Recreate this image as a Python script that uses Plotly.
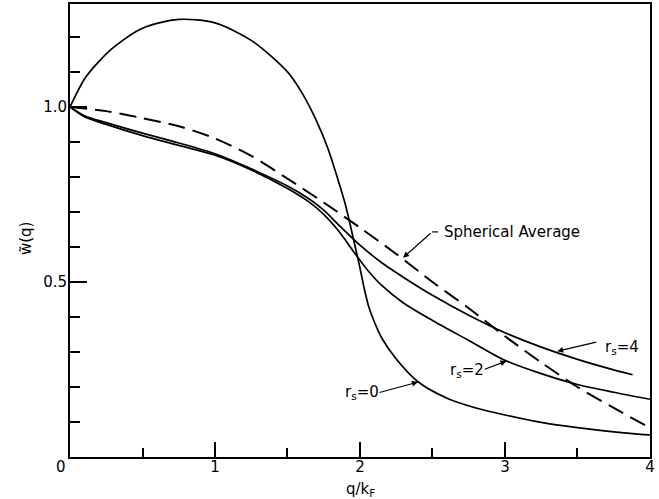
import plotly.graph_objects as go

# r_s = 0 curve
x_rs0 = [0, 0.1, 0.2, 0.3, 0.5, 0.75, 1.0, 1.25, 1.5, 1.6, 1.7, 1.78, 1.85, 1.9, 1.94, 1.97,
         2.0, 2.03, 2.06, 2.1, 2.15, 2.25, 2.4, 2.6, 2.8, 3.0, 3.25, 3.5, 3.75, 4.0]
y_rs0 = [1.0, 1.08, 1.13, 1.17, 1.225, 1.25, 1.24, 1.19, 1.10, 1.04, 0.96, 0.88, 0.79, 0.72, 0.65, 0.595,
         0.54, 0.48, 0.43, 0.385, 0.34, 0.28, 0.215, 0.168, 0.14, 0.12, 0.099, 0.084, 0.072, 0.063]

# r_s = 2 curve
x_rs2 = [0, 0.1, 0.25, 0.5, 0.75, 1.0, 1.25, 1.5, 1.65, 1.75, 1.85, 1.95, 2.05, 2.15, 2.3, 2.5,
         2.75, 3.0, 3.25, 3.5, 3.75, 4.0]
y_rs2 = [1.0, 0.972, 0.95, 0.918, 0.89, 0.862, 0.82, 0.767, 0.728, 0.693, 0.647, 0.59, 0.535, 0.49,
         0.44, 0.39, 0.333, 0.276, 0.238, 0.207, 0.185, 0.165]

# r_s = 4 curve
x_rs4 = [0, 0.1, 0.25, 0.5, 0.75, 1.0, 1.25, 1.5, 1.65, 1.75, 1.86, 2.0, 2.15, 2.32, 2.5, 2.75,
         3.0, 3.25, 3.5, 3.75, 3.88]
y_rs4 = [1.0, 0.975, 0.955, 0.925, 0.897, 0.866, 0.823, 0.774, 0.737, 0.705, 0.66, 0.605, 0.555,
         0.508, 0.462, 0.405, 0.355, 0.314, 0.279, 0.249, 0.235]

# spherical average (dashed)
x_sph = [0, 0.25, 0.5, 0.75, 1.0, 1.25, 1.5, 1.75, 2.0, 2.25, 2.5, 2.75, 3.0, 3.25, 3.5, 3.75, 4.0]
y_sph = [1.0, 0.988, 0.968, 0.945, 0.91, 0.86, 0.795, 0.727, 0.655, 0.58, 0.50, 0.425, 0.345,
         0.27, 0.20, 0.14, 0.083]

x_major = [1, 2, 3, 4]
x_major_labels = ["1", "2", "3", "4"]
x_minor = [0.5, 1.5, 2.5, 3.5]
y_major = [0.5, 1.0]
y_major_labels = ["0.5", "1.0"]
y_minor = [0.1, 0.2, 0.3, 0.4, 0.6, 0.7, 0.8, 0.9, 1.1, 1.2]

FONT = "DejaVu Sans, sans-serif"
line_style = dict(color="black", width=1.7, shape="spline", smoothing=0.8)

fig = go.Figure()
fig.add_trace(go.Scatter(x=x_rs0, y=y_rs0, mode="lines", line=line_style, name="rs=0"))
fig.add_trace(go.Scatter(x=x_rs2, y=y_rs2, mode="lines", line=line_style, name="rs=2"))
fig.add_trace(go.Scatter(x=x_rs4, y=y_rs4, mode="lines", line=line_style, name="rs=4"))
fig.add_trace(go.Scatter(x=x_sph, y=y_sph, mode="lines",
                         line=dict(color="black", width=2, dash="17px,8px", shape="spline", smoothing=0.8),
                         name="Spherical Average"))

TXT = dict(size=15, color="black", family=FONT)
annotations = []
# "0" at origin
annotations.append(dict(x=0, y=0, xref="x", yref="y", text="0", showarrow=False,
                        xanchor="center", yanchor="middle", xshift=-9, yshift=-10, font=TXT))
# Spherical Average label
annotations.append(dict(x=2.566, y=0.643, xref="x", yref="y", text="Spherical Average", showarrow=False,
                        xanchor="left", yanchor="middle", font=TXT))
annotations.append(dict(x=2.297, y=0.569, xref="x", yref="y", ax=2.497, ay=0.643, axref="x", ayref="y",
                        text="", showarrow=True, arrowhead=2, arrowsize=1, arrowwidth=1.2,
                        arrowcolor="black", standoff=0))
# r_s = 4
annotations.append(dict(x=3.676, y=0.314, xref="x", yref="y", text="r<sub>s</sub>=4", showarrow=False,
                        xanchor="left", yanchor="middle", font=TXT))
annotations.append(dict(x=3.36, y=0.302, xref="x", yref="y", ax=3.64, ay=0.329, axref="x", ayref="y",
                        text="", showarrow=True, arrowhead=2, arrowsize=1, arrowwidth=1.2,
                        arrowcolor="black", standoff=0))
# r_s = 2
annotations.append(dict(x=2.61, y=0.246, xref="x", yref="y", text="r<sub>s</sub>=2", showarrow=False,
                        xanchor="left", yanchor="middle", font=TXT))
annotations.append(dict(x=3.01, y=0.274, xref="x", yref="y", ax=2.85, ay=0.249, axref="x", ayref="y",
                        text="", showarrow=True, arrowhead=2, arrowsize=1, arrowwidth=1.2,
                        arrowcolor="black", standoff=0))
# r_s = 0
annotations.append(dict(x=1.88, y=0.183, xref="x", yref="y", text="r<sub>s</sub>=0", showarrow=False,
                        xanchor="left", yanchor="middle", font=TXT))
annotations.append(dict(x=2.40, y=0.214, xref="x", yref="y", ax=2.124, ay=0.183, axref="x", ayref="y",
                        text="", showarrow=True, arrowhead=2, arrowsize=1, arrowwidth=1.2,
                        arrowcolor="black", standoff=0))
# axis titles
annotations.append(dict(x=0.5, y=-0.072, xref="paper", yref="paper", text="q/k<sub>F</sub>",
                        showarrow=False, xanchor="center", yanchor="middle", font=TXT))
annotations.append(dict(x=-0.076, y=0.483, xref="paper", yref="paper", text="w\u0303(q)",
                        showarrow=False, textangle=-90, xanchor="center", yanchor="middle", font=TXT))

shapes = [dict(type="line", xref="x", yref="y", x0=2.497, y0=0.643, x1=2.538, y1=0.643,
               line=dict(color="black", width=1.2))]

fig.update_layout(
    width=659, height=499,
    margin=dict(l=70, r=9, t=4, b=42, autoexpand=False),
    paper_bgcolor="white", plot_bgcolor="white",
    showlegend=False,
    annotations=annotations,
    shapes=shapes,
    font=dict(family=FONT, color="black", size=15),
    xaxis=dict(range=[0, 4.0001], showline=True, linecolor="black", linewidth=2, mirror=True,
               showgrid=False, zeroline=False, automargin=False,
               tickmode="array", tickvals=x_major, ticktext=x_major_labels,
               ticks="inside", ticklen=15, tickwidth=1.5, tickcolor="black",
               ticklabelstandoff=-5,
               tickfont=dict(size=15, family=FONT, color="black"),
               minor=dict(tickmode="array", tickvals=x_minor, ticks="inside", ticklen=9,
                          tickwidth=1.5, tickcolor="black", showgrid=False)),
    yaxis=dict(range=[0, 1.294], showline=True, linecolor="black", linewidth=2, mirror=True,
               showgrid=False, zeroline=False, automargin=False,
               tickmode="array", tickvals=y_major, ticktext=y_major_labels,
               ticks="inside", ticklen=17, tickwidth=1.5, tickcolor="black",
               ticklabelstandoff=-2,
               tickfont=dict(size=15, family=FONT, color="black"),
               minor=dict(tickmode="array", tickvals=y_minor, ticks="inside", ticklen=10,
                          tickwidth=1.5, tickcolor="black", showgrid=False)),
)

fig.write_html("out.html", config={"displayModeBar": False},
               post_script="document.body.style.margin='0';document.body.style.padding='0';")
